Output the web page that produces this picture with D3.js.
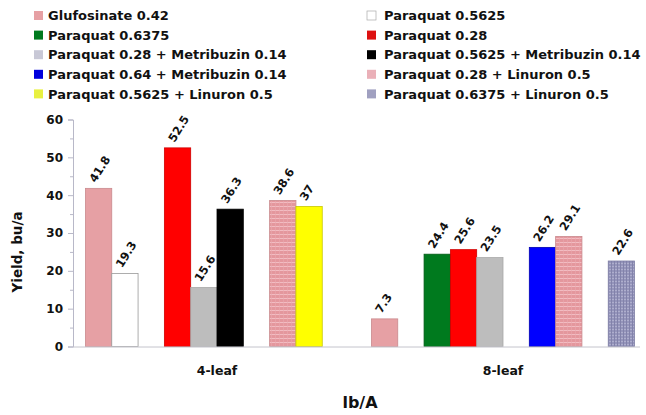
<!DOCTYPE html>
<html><head><meta charset="utf-8">
<script src="https://cdn.jsdelivr.net/npm/d3@7"></script>
<style>body{margin:0;background:#fff} text{font-family:"DejaVu Sans",sans-serif;font-weight:bold;fill:#111}</style>
</head><body><svg id="c" width="646" height="415"></svg>
<script>
const categories = ["4-leaf", "8-leaf"];
const seriesNames = ["Glufosinate 0.42", "Paraquat 0.5625", "Paraquat 0.6375", "Paraquat 0.28",
  "Paraquat 0.28 + Metribuzin 0.14", "Paraquat 0.5625 + Metribuzin 0.14", "Paraquat 0.64 + Metribuzin 0.14",
  "Paraquat 0.28 + Linuron 0.5", "Paraquat 0.5625 + Linuron 0.5", "Paraquat 0.6375 + Linuron 0.5"];
const values4leaf = [41.8, 19.3, null, 52.5, 15.6, 36.3, null, 38.6, 37, null];
const values8leaf = [7.3, null, 24.4, 25.6, 23.5, null, 26.2, 29.1, null, 22.6];
const yTicks = [0, 10, 20, 30, 40, 50, 60];
const yMinorTicks = [5, 15, 25, 35, 45, 55];
const seriesFills = ["#e6a0a4", "#ffffff", "#007a1e", "#ff0000", "#bdbdbd", "#000000", "#0000ff", "url(#pinkHatch)", "#ffff00", "url(#purpleGrid)"];
const legendFills = ["#e6a0a4", "#ffffff", "#007a1e", "#dd1111", "#c8c8d6", "#000000", "#0000dd", "#eab0b8", "#e8f040", "#a0a0c0"];
const seriesStrokes = ["#c98a8e", "#999999", "#005a14", "#d00000", "#a8a8a8", "#000000", "#0000b0", "#c98a8e", "#c8c800", "#7f7fa6"];

const svg = d3.select("#c");
const defs = svg.append("defs");
const p1 = defs.append("pattern").attr("id", "pinkHatch").attr("patternUnits", "userSpaceOnUse").attr("width", 4).attr("height", 4);
p1.append("rect").attr("width", 4).attr("height", 4).attr("fill", "#e4979d");
p1.append("rect").attr("y", 2).attr("width", 4).attr("height", 1).attr("fill", "#f2bcc2");
p1.append("rect").attr("x", 3).attr("width", 1).attr("height", 4).attr("fill", "#eaa8ae").attr("opacity", 0.6);
const p2 = defs.append("pattern").attr("id", "purpleGrid").attr("patternUnits", "userSpaceOnUse").attr("width", 3).attr("height", 3);
p2.append("rect").attr("width", 3).attr("height", 3).attr("fill", "#9595bb");
p2.append("rect").attr("y", 2).attr("width", 3).attr("height", 1).attr("fill", "#aeaecd");
p2.append("rect").attr("x", 2).attr("width", 1).attr("height", 3).attr("fill", "#8282aa");

const x0 = d3.scaleBand().domain(categories).range([74, 646]).paddingInner(0).paddingOuter(0);
const x1 = d3.scaleBand().domain(d3.range(seriesNames.length)).range([0, x0.bandwidth()]).paddingInner(0).paddingOuter(0.435);
const y = d3.scaleLinear().domain([0, 60]).range([346.5, 119.5]);

const data = [];
categories.forEach((c, ci) => {
  const vals = ci === 0 ? values4leaf : values8leaf;
  vals.forEach((v, si) => { if (v !== null) data.push({c, si, v}); });
});

// axes
const yAxis = svg.append("g").attr("transform", "translate(73,0)")
  .call(d3.axisLeft(y).tickValues(yTicks).tickSize(5).tickPadding(5).tickFormat(d3.format("d")));
yAxis.select(".domain").attr("stroke", "#b8b8c8");
yAxis.selectAll(".tick line").attr("stroke", "#b8b8c8");
yAxis.selectAll("text").style("font-size", "12px").style("font-family", "DejaVu Sans").style("font-weight", "bold").attr("fill", "#111");
const yMinor = svg.append("g").attr("transform", "translate(73,0)")
  .call(d3.axisLeft(y).tickValues(yMinorTicks).tickSize(3).tickFormat(""));
yMinor.select(".domain").remove();
yMinor.selectAll(".tick line").attr("stroke", "#b8b8c8");

// bars
svg.append("g").selectAll("rect").data(data).join("rect")
  .attr("x", d => x0(d.c) + x1(d.si))
  .attr("y", d => y(d.v))
  .attr("width", x1.bandwidth())
  .attr("height", d => y(0) - y(d.v))
  .attr("fill", d => seriesFills[d.si])
  .attr("stroke", d => seriesStrokes[d.si])
  .attr("stroke-width", 0.8);

const xAxis = svg.append("g").attr("transform", `translate(0,${y(0)})`)
  .call(d3.axisBottom(x0).tickSize(0).tickPadding(20));
xAxis.select(".domain").attr("stroke", "#c4c4cc").attr("d", "M73,0.5H640");
xAxis.selectAll("text").style("font-size", "12.5px").style("font-family", "DejaVu Sans").style("font-weight", "bold").attr("fill", "#111");

// value labels
svg.append("g").selectAll("text").data(data).join("text")
  .attr("transform", d => `translate(${x0(d.c) + x1(d.si) + x1.bandwidth() / 2 - 3},${y(d.v) - 5}) rotate(-58)`)
  .style("font-size", "11.5px")
  .text(d => d3.format("")(d.v));

// titles
svg.append("text").attr("transform", "translate(22,252) rotate(-90)").attr("text-anchor", "middle")
  .style("font-size", "13.5px").text("Yield, bu/a");
svg.append("text").attr("x", 360).attr("y", 408).attr("text-anchor", "middle")
  .style("font-size", "16px").text("lb/A");

// legend
const lg = svg.append("g");
const items = lg.selectAll("g").data(seriesNames).join("g")
  .attr("transform", (d, i) => `translate(${i % 2 === 0 ? 34 : 367},${15.5 + Math.floor(i / 2) * 19.6})`);
items.append("rect").attr("x", 0).attr("y", -4.5).attr("width", 9).attr("height", 9)
  .attr("fill", (d, i) => legendFills[i]).attr("stroke", (d, i) => i === 1 ? "#aaa" : "none").attr("stroke-width", 0.7);
items.append("text").attr("x", (d, i) => i % 2 === 0 ? 14 : 17).attr("dy", "0.36em")
  .style("font-size", "13px").text(d => d);
</script></body></html>
